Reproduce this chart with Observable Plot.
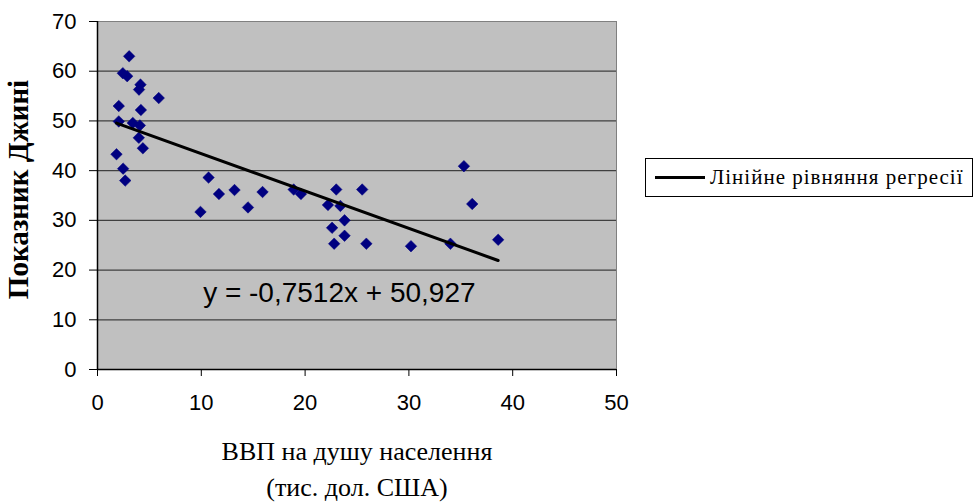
<!DOCTYPE html>
<html>
<head>
<meta charset="utf-8">
<script src="https://cdn.jsdelivr.net/npm/d3@7"></script>
<script src="https://cdn.jsdelivr.net/npm/@observablehq/plot@0.6"></script>
<style>
  html, body { margin: 0; padding: 0; background: #fff; }
  #wrap { position: relative; width: 976px; height: 502px; }
  #legend {
    position: absolute; left: 645px; top: 158px; width: 326px; height: 37px;
    border: 1px solid #000; background: #fff; box-sizing: content-box;
    font-family: "Liberation Serif", "Times New Roman", serif; font-size: 21px;
    display: flex; align-items: center; white-space: nowrap; letter-spacing: 1px;
  }
  #legend .sw { display: inline-block; width: 50px; height: 3px; background: #000; margin: 0 5px 0 9px; }
</style>
</head>
<body>
<div id="wrap"><div id="legend"><span class="sw"></span><span>Лінійне рівняння регресії</span></div></div>
<script>
// GDP per capita (thousand USD)
const gdp = [3.05, 2.44, 2.86, 4.14, 4.0, 5.9, 2.05, 4.18, 2.05, 3.4, 4.08, 3.98, 4.37, 1.83, 2.47, 2.67,
             10.7, 11.7, 13.2, 15.9, 9.92, 14.5, 18.9, 19.6, 23.0, 25.5, 22.2, 23.4, 23.8, 22.6, 23.8, 22.8, 25.9,
             30.2, 34.0, 35.3, 36.1, 38.6];
// Gini index
const gini = [63.0, 59.6, 59.0, 57.3, 56.3, 54.6, 53.0, 52.2, 49.9, 49.6, 49.1, 46.6, 44.5, 43.3, 40.4, 38.0,
              38.6, 35.3, 36.1, 35.7, 31.7, 32.6, 36.2, 35.3, 36.2, 36.2, 33.1, 32.9, 30.0, 28.5, 26.9, 25.3, 25.3,
              24.8, 25.3, 40.9, 33.3, 26.1];
// Regression coefficients (as shown on the chart)
const slope = -0.7512;
const intercept = 50.927;
const equationText = "y = -0,7512x + 50,927";
const equationAt = [{x: 23.3, y: 15.3}];
const xTicks = [0, 10, 20, 30, 40, 50];
const yTicks = [0, 10, 20, 30, 40, 50, 60, 70];
const gridTicks = [10, 20, 30, 40, 50, 60];
const xLabel1 = "ВВП на душу населення";
const xLabel2 = "(тис. дол. США)";
const yLabel = "Показник Джині";

const points = gdp.map((x, i) => ({x, y: gini[i]}));
const [xmin, xmax] = d3.extent(gdp);
const trend = [xmin, xmax].map(x => ({x, y: slope * x + intercept}));

const sans = "'Liberation Sans', Arial, sans-serif";
const serif = "'Liberation Serif', 'Times New Roman', serif";

const chart = Plot.plot({
  width: 976,
  height: 502,
  marginLeft: 97,
  marginRight: 360,
  marginTop: 21,
  marginBottom: 133,
  style: {fontFamily: sans, fontSize: "22px", color: "#000", background: "transparent"},
  x: {domain: [0, 50]},
  y: {domain: [0, 70]},
  marks: [
    Plot.frame({fill: "#c0c0c0", stroke: "#808080"}),
    Plot.ruleY(gridTicks, {stroke: "#404040", strokeWidth: 1.2}),
    Plot.ruleX([0], {stroke: "#000", strokeWidth: 1.5}),
    Plot.ruleY([0], {stroke: "#000", strokeWidth: 1.5}),
    Plot.axisY({ticks: yTicks, tickSize: 8, tickPadding: 13, label: null, fontSize: 22}),
    Plot.axisX({ticks: xTicks, tickSize: 7, tickPadding: 18, label: null, fontSize: 22}),
    Plot.dot(points, {x: "x", y: "y", symbol: "diamond2", r: 5.2, fill: "#000080", stroke: "#000080", strokeWidth: 0.5}),
    Plot.line(trend, {x: "x", y: "y", stroke: "#000", strokeWidth: 3}),
    Plot.text(equationAt, {x: "x", y: "y", text: () => equationText, fontSize: 28, fontFamily: sans, fill: "#000"}),
    Plot.text([yLabel], {frameAnchor: "left", textAnchor: "middle", dx: -79, dy: -6, rotate: -90, fontSize: 29, fontWeight: "bold", fontFamily: serif, fill: "#000"}),
    Plot.text([xLabel1], {frameAnchor: "bottom", dy: 90, fontSize: 26, fontFamily: serif, fill: "#000"}),
    Plot.text([xLabel2], {frameAnchor: "bottom", dy: 126, fontSize: 26, fontFamily: serif, fill: "#000"})
  ]
});
chart.style.position = "absolute";
chart.style.left = "0";
chart.style.top = "0";
chart.style.overflow = "visible";
document.getElementById("wrap").prepend(chart);
</script>
</body>
</html>
